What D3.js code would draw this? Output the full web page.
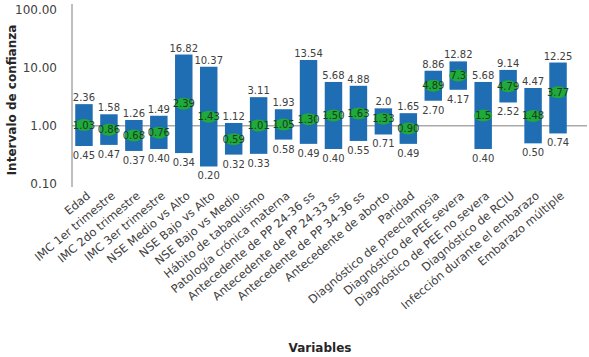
<!DOCTYPE html>
<html>
<head>
<meta charset="utf-8">
<script src="https://cdn.jsdelivr.net/npm/d3@7"></script>
<style>
  body { margin: 0; background: #fff; }
  text { font-family: Verdana, "DejaVu Sans", sans-serif; }
</style>
</head>
<body>
<div id="chart"></div>
<script>
// variables del modelo
const categories = [
    "Edad", "IMC 1er trimestre", "IMC 2do trimestre", "IMC 3er trimestre",
    "NSE Medio vs Alto", "NSE Bajo vs Alto", "NSE Bajo vs Medio",
    "Hábito de tabaquismo", "Patología crónica materna",
    "Antecedente de PP 24-36 ss", "Antecedente de PP 24-33 ss",
    "Antecedente de PP 34-36 ss", "Antecedente de aborto", "Paridad",
    "Diagnóstico de preeclampsia", "Diagnóstico de PEE severa",
    "Diagnóstico de PEE no severa", "Diagnóstico de RCIU",
    "Infección durante el embarazo", "Embarazo múltiple"
];
const lower = [0.45, 0.47, 0.37, 0.40, 0.34, 0.20, 0.32, 0.33, 0.58, 0.49,
               0.40, 0.55, 0.71, 0.49, 2.70, 4.17, 0.40, 2.52, 0.50, 0.74];
const upper = [2.36, 1.58, 1.26, 1.49, 16.82, 10.37, 1.12, 3.11, 1.93, 13.54,
               5.68, 4.88, 2.0, 1.65, 8.86, 12.82, 5.68, 9.14, 4.47, 12.25];
const estimate = [1.03, 0.86, 0.68, 0.76, 2.39, 1.43, 0.59, 1.01, 1.05, 1.30,
                  1.50, 1.63, 1.33, 0.90, 4.89, 7.3, 1.5, 4.79, 1.48, 3.77];
// textos tal como aparecen
const lowerLabels = ["0.45", "0.47", "0.37", "0.40", "0.34", "0.20", "0.32", "0.33", "0.58", "0.49",
                     "0.40", "0.55", "0.71", "0.49", "2.70", "4.17", "0.40", "2.52", "0.50", "0.74"];
const upperLabels = ["2.36", "1.58", "1.26", "1.49", "16.82", "10.37", "1.12", "3.11", "1.93", "13.54",
                     "5.68", "4.88", "2.0", "1.65", "8.86", "12.82", "5.68", "9.14", "4.47", "12.25"];
const estimateLabels = ["1.03", "0.86", "0.68", "0.76", "2.39", "1.43", "0.59", "1.01", "1.05", "1.30",
                        "1.50", "1.63", "1.33", "0.90", "4.89", "7.3", "1.5", "4.79", "1.48", "3.77"];
const yTicks = [0.1, 1, 10, 100];

const W = 589, H = 357;
const svg = d3.select("#chart").append("svg")
    .attr("width", W).attr("height", H);

const x = d3.scaleBand().domain(categories).range([72, 570])
    .paddingInner(0.3).paddingOuter(0.13);
const y = d3.scaleLog().domain([0.1, 100]).range([184, 9.5]);

const data = categories.map((c, i) => ({
    cat: c, lo: lower[i], hi: upper[i], est: estimate[i],
    loL: lowerLabels[i], hiL: upperLabels[i], estL: estimateLabels[i]
}));

// eje y
const yAxis = svg.append("g").attr("transform", "translate(72,0)")
    .call(d3.axisLeft(y).tickValues(yTicks).tickSize(0).tickPadding(15)
        .tickFormat(d3.format(".2f")));
yAxis.select(".domain").attr("stroke", "#7f7f7f").attr("d", `M0,4V187`);
yAxis.selectAll("text").style("font-size", "12px").attr("fill", "#404040");

// línea de referencia en 1
svg.append("line")
    .attr("x1", 72).attr("x2", 587)
    .attr("y1", y(1)).attr("y2", y(1))
    .attr("stroke", "#7f7f7f").attr("stroke-width", 1);

// barras del intervalo
svg.append("g").selectAll("rect").data(data).join("rect")
    .attr("x", d => x(d.cat))
    .attr("width", x.bandwidth())
    .attr("y", d => y(d.hi))
    .attr("height", d => y(d.lo) - y(d.hi))
    .attr("fill", "#1f6db3");

// etiquetas superior / inferior
svg.append("g").selectAll("text").data(data).join("text")
    .attr("x", d => x(d.cat) + x.bandwidth() / 2)
    .attr("y", d => y(d.hi) - 3)
    .attr("text-anchor", "middle")
    .style("font-size", "10px").attr("fill", "#404040")
    .text(d => d.hiL);

svg.append("g").selectAll("text").data(data).join("text")
    .attr("x", d => x(d.cat) + x.bandwidth() / 2)
    .attr("y", d => y(d.lo) + 13)
    .attr("text-anchor", "middle")
    .style("font-size", "10px").attr("fill", "#404040")
    .text(d => d.loL);

// estimación puntual
const est = svg.append("g");
est.selectAll("ellipse").data(data).join("ellipse")
    .attr("cx", d => x(d.cat) + x.bandwidth() / 2)
    .attr("cy", d => y(d.est))
    .attr("rx", 9).attr("ry", 6)
    .attr("fill", "#1faa3c");
est.selectAll("text").data(data).join("text")
    .attr("x", d => x(d.cat) + x.bandwidth() / 2)
    .attr("y", d => y(d.est) + 3.5)
    .attr("text-anchor", "middle")
    .style("font-size", "10px").attr("fill", "#1d3b1d")
    .text(d => d.estL);

// etiquetas de categoría
svg.append("g").selectAll("text").data(data).join("text")
    .attr("transform", d => `translate(${x(d.cat) + x.bandwidth() / 2 + 7},${197}) rotate(-40)`)
    .attr("text-anchor", "end")
    .style("font-size", "11.5px").attr("fill", "#404040")
    .text(d => d.cat);

// títulos
svg.append("text")
    .attr("transform", `translate(16,${100}) rotate(-90)`)
    .attr("text-anchor", "middle")
    .style("font-size", "12px").style("font-weight", "bold").attr("fill", "#262626")
    .text("Intervalo de confianza");

svg.append("text")
    .attr("x", 320).attr("y", 352)
    .attr("text-anchor", "middle")
    .style("font-size", "12px").style("font-weight", "bold").attr("fill", "#262626")
    .text("Variables");
</script>
</body>
</html>
